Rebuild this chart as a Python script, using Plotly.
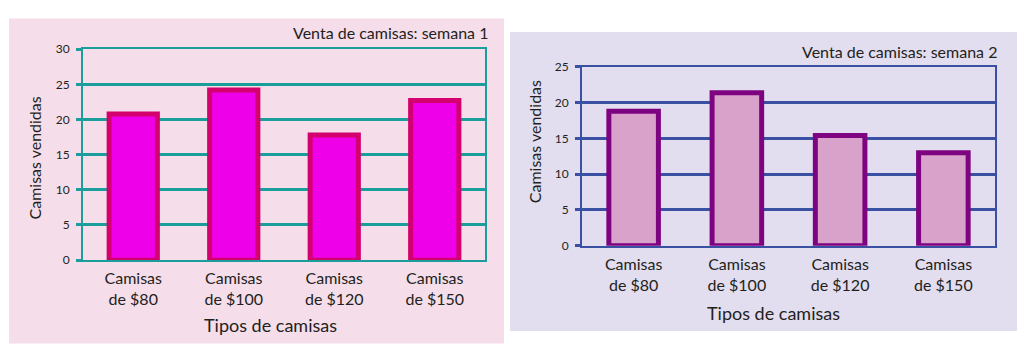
import plotly.graph_objects as go

categories = ["Camisas<br>de $80", "Camisas<br>de $100", "Camisas<br>de $120", "Camisas<br>de $150"]
semana1 = [20.8, 24.2, 17.8, 22.7]
semana2 = [18.8, 21.4, 15.4, 13.0]
title1 = "Venta de camisas: semana 1"
title2 = "Venta de camisas: semana 2"
ytitle = "Camisas vendidas"
xtitle = "Tipos de camisas"

W, H = 1033, 363
FONT = "Lato"
TXT = "#231F20"

def px(x):
    return x / W

def py(y):
    return 1 - y / H

fig = go.Figure()
fig.add_trace(go.Bar(x=categories, y=semana1, width=0.48,
                     marker=dict(color="#EE00E8", line=dict(color="#D4006E", width=5)),
                     xaxis="x", yaxis="y", showlegend=False))
fig.add_trace(go.Bar(x=categories, y=semana2, width=0.48,
                     marker=dict(color="#D8A2CB", line=dict(color="#7E0380", width=5)),
                     xaxis="x2", yaxis="y2", showlegend=False))

teal = "#1A9E9C"
blue = "#3A50A3"

common_x = dict(showgrid=False, ticks="", tickfont=dict(family=FONT, size=16, color=TXT),
                mirror=True, showline=True, linewidth=2, fixedrange=True, ticklabelstandoff=3)
common_y = dict(dtick=5, ticks="outside", ticklen=5, tickwidth=3, gridwidth=3,
                tickfont=dict(family=FONT, size=12, color=TXT), showline=True,
                linewidth=2, mirror=True, zeroline=False, fixedrange=True, ticklabelstandoff=4)

fig.update_layout(
    width=W, height=H,
    margin=dict(l=0, r=0, t=0, b=0),
    paper_bgcolor="white", plot_bgcolor="white",
    xaxis=dict(domain=[px(83), px(485)], anchor="y", linecolor=teal, **common_x),
    yaxis=dict(domain=[py(263), py(43)], anchor="x", range=[0, 30],
               gridcolor=teal, tickcolor=teal, linecolor=teal, **common_y),
    xaxis2=dict(domain=[px(582), px(995)], anchor="y2", linecolor=blue, **common_x),
    yaxis2=dict(domain=[py(248), py(61.5)], anchor="x2", range=[0, 25],
                gridcolor=blue, tickcolor=blue, linecolor=blue, **common_y),
    shapes=[
        dict(type="rect", xref="paper", yref="paper", x0=px(9), x1=px(504), y0=py(350), y1=py(11),
             fillcolor="#F5DDEA", line=dict(width=0), layer="below"),
        dict(type="rect", xref="paper", yref="paper", x0=px(510), x1=px(1017), y0=py(337), y1=py(25),
             fillcolor="#E2DDEF", line=dict(width=0), layer="below"),
    ],
    annotations=[
        dict(text=title1, xref="paper", yref="paper", x=px(490), y=py(26), xanchor="right", yanchor="middle",
             showarrow=False, font=dict(family=FONT, size=16, color=TXT)),
        dict(text=title2, xref="paper", yref="paper", x=px(999), y=py(45), xanchor="right", yanchor="middle",
             showarrow=False, font=dict(family=FONT, size=16, color=TXT)),
        dict(text=ytitle, xref="paper", yref="paper", x=px(35), y=py(157), textangle=-90,
             xanchor="center", yanchor="middle", showarrow=False, font=dict(family=FONT, size=16, color=TXT)),
        dict(text=ytitle, xref="paper", yref="paper", x=px(534), y=py(140), textangle=-90,
             xanchor="center", yanchor="middle", showarrow=False, font=dict(family=FONT, size=16, color=TXT)),
        dict(text=xtitle, xref="paper", yref="paper", x=px(270), y=py(331),
             xanchor="center", yanchor="middle", showarrow=False, font=dict(family=FONT, size=18, color=TXT)),
        dict(text=xtitle, xref="paper", yref="paper", x=px(773), y=py(318),
             xanchor="center", yanchor="middle", showarrow=False, font=dict(family=FONT, size=18, color=TXT)),
    ],
)

post = (
    "document.documentElement.style.margin='0';"
    "document.documentElement.style.padding='0';"
    "document.documentElement.style.overflow='hidden';"
    "document.body.style.margin='0';"
    "document.body.style.padding='0';"
    "document.body.style.overflow='hidden';"
    "var d=document.querySelector('.plotly-graph-div');"
    "d.style.position='fixed';d.style.top='0px';d.style.left='0px';"
)

fig.write_html("out.html", config={"displayModeBar": False}, post_script=post)
